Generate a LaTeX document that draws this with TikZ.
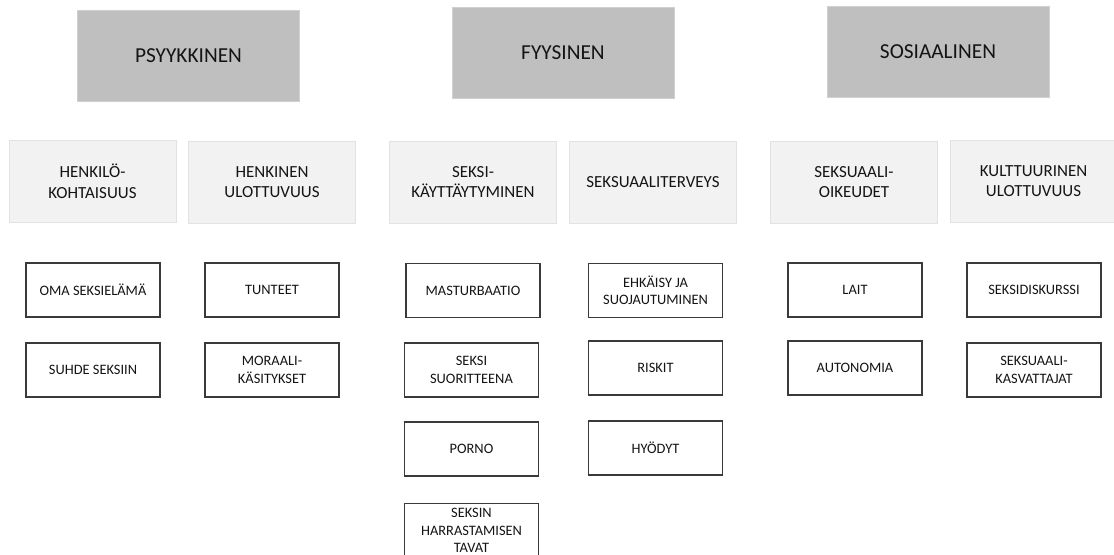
\documentclass[tikz,border=0pt]{standalone}
\usepackage{fontspec}
\setmainfont{Carlito}
\definecolor{topfill}{HTML}{BFBFBF}
\definecolor{topline}{HTML}{D0D0D0}
\definecolor{midfill}{HTML}{F2F2F2}
\definecolor{midline}{HTML}{E2E2E2}
\definecolor{leafline}{HTML}{3A3A3A}
\definecolor{txt}{HTML}{141414}
\begin{document}
\begin{tikzpicture}[x=0.75pt,y=-0.75pt,
  every node/.style={inner sep=0pt, align=center, text=txt},
  topbox/.style={draw=topline, line width=0.6pt, fill=topfill,
    minimum width=222*0.75pt, minimum height=91*0.75pt,
    font=\fontsize{16}{19}\selectfont},
  midbox/.style={draw=midline, line width=0.6pt, fill=midfill,
    minimum width=167*0.75pt, minimum height=82*0.75pt,
    font=\fontsize{12.7}{15.5}\selectfont},
  leafbox/.style={draw=leafline, line width=0.8pt, fill=white,
    minimum width=134*0.75pt, minimum height=54*0.75pt,
    font=\fontsize{10.8}{13}\selectfont}]
\path[use as bounding box] (0,0) rectangle (1114,554);
\clip (0,0) rectangle (1114,554);
% top level
\node[topbox] (psy) at (188.5,56) {PSYYKKINEN};
\node[topbox] (fyy) at (563,52.5) {FYYSINEN};
\node[topbox] (sos) at (938,51.5) {SOSIAALINEN};
% second level
\node[midbox] (hk) at (92.5,181.5) {HENKILÖ-\\KOHTAISUUS};
\node[midbox] (hu) at (272,182) {HENKINEN\\ULOTTUVUUS};
\node[midbox] (sk) at (473,182) {SEKSI-\\KÄYTTÄYTYMINEN};
\node[midbox] (sv) at (653,182) {SEKSUAALITERVEYS};
\node[midbox] (so) at (854,182) {SEKSUAALI-\\OIKEUDET};
\node[midbox] (ku) at (1033.5,181) {KULTTUURINEN\\ULOTTUVUUS};
% leaves
\node[leafbox] (oma) at (93,290) {OMA SEKSIELÄMÄ};
\node[leafbox] (tun) at (272,290) {TUNTEET};
\node[leafbox] (suh) at (93,370) {SUHDE SEKSIIN};
\node[leafbox] (mor) at (272,370) {MORAALI-\\KÄSITYKSET};
\node[leafbox] (mas) at (473,290.5) {MASTURBAATIO};
\node[leafbox] (suo) at (471.5,370) {SEKSI\\SUORITTEENA};
\node[leafbox] (por) at (471.5,449) {PORNO};
\node[leafbox] (tav) at (471.5,530.5) {SEKSIN\\HARRASTAMISEN\\TAVAT};
\node[leafbox] (ehk) at (655.5,290.5) {EHKÄISY JA\\SUOJAUTUMINEN};
\node[leafbox] (ris) at (655.5,368) {RISKIT};
\node[leafbox] (hyo) at (655.5,448) {HYÖDYT};
\node[leafbox] (lai) at (855,290) {LAIT};
\node[leafbox] (aut) at (855,368) {AUTONOMIA};
\node[leafbox] (sdk) at (1034,290) {SEKSIDISKURSSI};
\node[leafbox] (kas) at (1034,370) {SEKSUAALI-\\KASVATTAJAT};
\end{tikzpicture}
\end{document}
